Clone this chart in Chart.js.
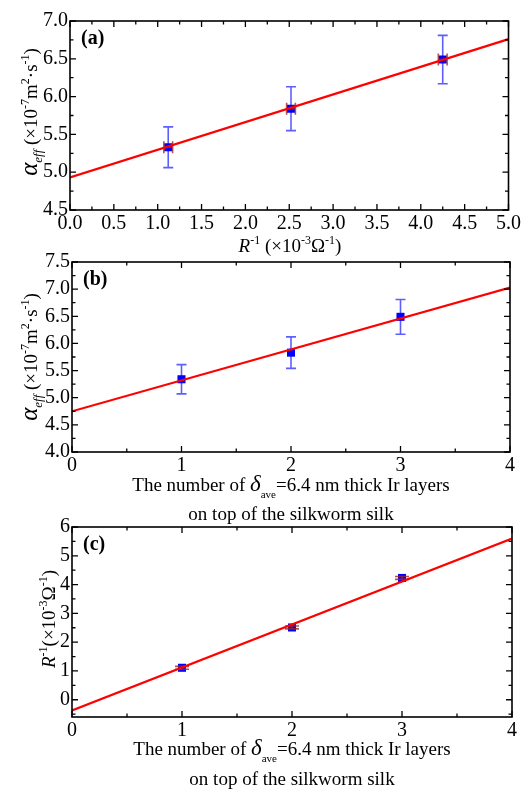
<!DOCTYPE html>
<html>
<head>
<meta charset="utf-8">
<script src="https://cdn.jsdelivr.net/npm/chart.js@4.4.0/dist/chart.umd.min.js"></script>
<style>
  html, body { margin: 0; padding: 0; background: #fff; }
  #wrap { position: relative; width: 523px; height: 789px; overflow: hidden; }
  canvas { position: absolute; left: 0; top: 0; }
</style>
</head>
<body>
<div id="wrap">
  <canvas id="chartA" width="523" height="789"></canvas>
  <canvas id="chartB" width="523" height="789"></canvas>
  <canvas id="chartC" width="523" height="789"></canvas>
</div>
<script>
// (a) alpha_eff vs R^-1
const aX = [1.12, 2.52, 4.25];
const aY = [5.33, 5.84, 6.49];
const aYErr = [0.27, 0.29, 0.32];
const aXErr = [0.05, 0.05, 0.05];
const aFitX = [0, 5];
const aFitY = [4.93, 6.76];
const aXTicks = [0, 0.5, 1, 1.5, 2, 2.5, 3, 3.5, 4, 4.5, 5];
const aXLabels = ["0.0", "0.5", "1.0", "1.5", "2.0", "2.5", "3.0", "3.5", "4.0", "4.5", "5.0"];
const aYTicks = [4.5, 5, 5.5, 6, 6.5, 7];
const aYLabels = ["4.5", "5.0", "5.5", "6.0", "6.5", "7.0"];

// (b) alpha_eff vs number of Ir layers
const bX = [1, 2, 3];
const bY = [5.34, 5.83, 6.49];
const bYErr = [0.27, 0.29, 0.32];
const bFitX = [0, 4];
const bFitY = [4.75, 7.03];
const bXTicks = [0, 1, 2, 3, 4];
const bXLabels = ["0", "1", "2", "3", "4"];
const bYTicks = [4, 4.5, 5, 5.5, 6, 6.5, 7, 7.5];
const bYLabels = ["4.0", "4.5", "5.0", "5.5", "6.0", "6.5", "7.0", "7.5"];

// (c) R^-1 vs number of Ir layers
const cX = [1, 2, 3];
const cY = [1.11, 2.51, 4.23];
const cYErr = [0.05, 0.05, 0.05];
const cFitX = [0, 4];
const cFitY = [-0.37, 5.6];
const cXTicks = [0, 1, 2, 3, 4];
const cXLabels = ["0", "1", "2", "3", "4"];
const cYTicks = [0, 1, 2, 3, 4, 5, 6];
const cYLabels = ["0", "1", "2", "3", "4", "5", "6"];

const SERIF = "'Liberation Serif', 'Times New Roman', serif";
const BLUE_ERR = "rgba(40,40,255,0.75)";
const BROWN_ERR = "rgba(150,40,40,0.8)";

function pts(xs, ys) {
  return xs.map((x, i) => ({ x: x, y: ys[i] }));
}

// draw a line of mixed-style text centred on (cx, cy) baseline, optionally rotated
function drawRich(ctx, parts, cx, cy, rotate) {
  ctx.save();
  ctx.translate(cx, cy);
  if (rotate) ctx.rotate(-Math.PI / 2);
  ctx.fillStyle = "#000";
  ctx.textBaseline = "alphabetic";
  ctx.textAlign = "left";
  let w = 0;
  parts.forEach(p => { ctx.font = p.f; w += ctx.measureText(p.t).width; });
  let x = -w / 2;
  parts.forEach(p => {
    ctx.font = p.f;
    ctx.fillText(p.t, x, p.dy || 0);
    x += ctx.measureText(p.t).width;
  });
  ctx.restore();
}

const n19 = "19px " + SERIF;
const i19 = "italic 19px " + SERIF;
const s12 = "12px " + SERIF;

const alphaTitle = [
  { t: "α", f: "italic 25px " + SERIF },
  { t: "eff", f: "italic 13px " + SERIF, dy: 5 },
  { t: " (×10", f: n19 },
  { t: "-7", f: s12, dy: -8 },
  { t: "m", f: n19 },
  { t: "2", f: s12, dy: -8 },
  { t: "·s", f: n19 },
  { t: "-1", f: s12, dy: -8 },
  { t: ")", f: n19 }
];
const layerTitle = [
  { t: "The number of ", f: n19 },
  { t: "δ", f: "italic 23px " + SERIF },
  { t: "ave", f: "11px " + SERIF, dy: 7 },
  { t: "=6.4 nm thick Ir layers", f: n19 }
];
const layerTitle2 = [{ t: "on top of the silkworm silk", f: n19 }];

const panels = [
  {
    id: "chartA", area: { left: 70, right: 510, top: 21, bottom: 210 },
    x: aX, y: aY, yErr: aYErr, xErr: aXErr, fitX: aFitX, fitY: aFitY,
    xTicks: aXTicks, xLabels: aXLabels, yTicks: aYTicks, yLabels: aYLabels,
    xMin: 0, xMax: 5, yMin: 4.5, yMax: 7, yErrColor: BLUE_ERR, yCap: 5,
    tag: "(a)",
    titles: [
      { parts: [
        { t: "R", f: i19 }, { t: "-1", f: s12, dy: -8 },
        { t: " (×10", f: n19 }, { t: "-3", f: s12, dy: -8 },
        { t: "Ω", f: n19 }, { t: "-1", f: s12, dy: -8 }, { t: ")", f: n19 }
      ], x: 290, y: 252 },
      { parts: alphaTitle, x: 37, y: 112, rot: true }
    ]
  },
  {
    id: "chartB", area: { left: 72, right: 510, top: 262, bottom: 452 },
    x: bX, y: bY, yErr: bYErr, xErr: null, fitX: bFitX, fitY: bFitY,
    xTicks: bXTicks, xLabels: bXLabels, yTicks: bYTicks, yLabels: bYLabels,
    xMin: 0, xMax: 4, yMin: 4, yMax: 7.5, yErrColor: BLUE_ERR, yCap: 5,
    tag: "(b)",
    titles: [
      { parts: layerTitle, x: 291, y: 491 },
      { parts: layerTitle2, x: 291, y: 520 },
      { parts: alphaTitle, x: 37, y: 357, rot: true }
    ]
  },
  {
    id: "chartC", area: { left: 72, right: 512, top: 527, bottom: 717 },
    x: cX, y: cY, yErr: cYErr, xErr: null, fitX: cFitX, fitY: cFitY,
    xTicks: cXTicks, xLabels: cXLabels, yTicks: cYTicks, yLabels: cYLabels,
    xMin: 0, xMax: 4, yMin: -0.6, yMax: 6, yErrColor: BROWN_ERR, yCap: 7,
    tag: "(c)",
    titles: [
      { parts: layerTitle, x: 292, y: 755 },
      { parts: layerTitle2, x: 292, y: 785 },
      { parts: [
        { t: "R", f: i19 }, { t: "-1", f: s12, dy: -8 },
        { t: "(×10", f: n19 }, { t: "-3", f: s12, dy: -8 },
        { t: "Ω", f: n19 }, { t: "-1", f: s12, dy: -8 }, { t: ")", f: n19 }
      ], x: 55, y: 619, rot: true }
    ]
  }
];

// error bars: blue ones under the squares, brown ones over them
const errorBars = {
  id: "errorBars",
  beforeDatasetsDraw(chart) {
    const p = chart.options.plugins.errorBars.panel;
    if (p.yErrColor === BLUE_ERR) drawYErr(chart, p);
  },
  afterDatasetDraw(chart, args) {
    if (args.index !== 1) return;
    const p = chart.options.plugins.errorBars.panel;
    if (p.yErrColor !== BLUE_ERR) drawYErr(chart, p);
    if (p.xErr) {
      const ctx = chart.ctx, xs = chart.scales.x, ys = chart.scales.y;
      ctx.save();
      ctx.strokeStyle = BROWN_ERR;
      ctx.lineWidth = 1.6;
      p.x.forEach((v, i) => {
        const x0 = xs.getPixelForValue(v - p.xErr[i]);
        const x1 = xs.getPixelForValue(v + p.xErr[i]);
        const y = ys.getPixelForValue(p.y[i]);
        ctx.beginPath();
        ctx.moveTo(x0, y); ctx.lineTo(x1, y);
        ctx.moveTo(x0, y - 6); ctx.lineTo(x0, y + 6);
        ctx.moveTo(x1, y - 6); ctx.lineTo(x1, y + 6);
        ctx.stroke();
      });
      ctx.restore();
    }
  }
};

function drawYErr(chart, p) {
  const ctx = chart.ctx, xs = chart.scales.x, ys = chart.scales.y;
  ctx.save();
  ctx.strokeStyle = p.yErrColor;
  ctx.lineWidth = 1.6;
  p.x.forEach((v, i) => {
    const x = xs.getPixelForValue(v);
    const y0 = ys.getPixelForValue(p.y[i] - p.yErr[i]);
    const y1 = ys.getPixelForValue(p.y[i] + p.yErr[i]);
    ctx.beginPath();
    ctx.moveTo(x, y0); ctx.lineTo(x, y1);
    ctx.moveTo(x - p.yCap, y0); ctx.lineTo(x + p.yCap, y0);
    ctx.moveTo(x - p.yCap, y1); ctx.lineTo(x + p.yCap, y1);
    ctx.stroke();
  });
  ctx.restore();
}

// frame with inward ticks on all four sides, titles and panel tag
const frame = {
  id: "frame",
  afterDraw(chart) {
    const p = chart.options.plugins.errorBars.panel;
    const ctx = chart.ctx, a = chart.chartArea;
    const xs = chart.scales.x, ys = chart.scales.y;
    ctx.save();
    ctx.strokeStyle = "#000";
    ctx.lineWidth = 1.6;
    ctx.strokeRect(a.left, a.top, a.right - a.left, a.bottom - a.top);
    ctx.lineWidth = 1.3;
    ctx.beginPath();
    const xt = [], yt = [];
    p.xTicks.forEach((v, i) => {
      xt.push([v, 6]);
      if (i < p.xTicks.length - 1) xt.push([(v + p.xTicks[i + 1]) / 2, 3.5]);
    });
    p.yTicks.forEach((v, i) => {
      yt.push([v, 6]);
      if (i < p.yTicks.length - 1) yt.push([(v + p.yTicks[i + 1]) / 2, 3.5]);
    });
    if (p.yMin < p.yTicks[0]) yt.push([p.yTicks[0] - (p.yTicks[1] - p.yTicks[0]) / 2, 3.5]);
    xt.forEach(([v, len]) => {
      const x = xs.getPixelForValue(v);
      ctx.moveTo(x, a.bottom); ctx.lineTo(x, a.bottom - len);
      ctx.moveTo(x, a.top); ctx.lineTo(x, a.top + len);
    });
    yt.forEach(([v, len]) => {
      const y = ys.getPixelForValue(v);
      if (y < a.top - 0.5 || y > a.bottom + 0.5) return;
      ctx.moveTo(a.left, y); ctx.lineTo(a.left + len, y);
      ctx.moveTo(a.right, y); ctx.lineTo(a.right - len, y);
    });
    ctx.stroke();
    ctx.restore();

    p.titles.forEach(t => drawRich(ctx, t.parts, t.x, t.y, t.rot));
    ctx.save();
    ctx.font = "bold 20px " + SERIF;
    ctx.fillStyle = "#000";
    ctx.fillText(p.tag, a.left + 11, a.top + 23);
    ctx.restore();
  }
};

panels.forEach(p => {
  const a = p.area;
  const xH = 30;
  new Chart(document.getElementById(p.id), {
    type: "scatter",
    data: {
      datasets: [
        {
          type: "line",
          label: "fit",
          data: pts(p.fitX, p.fitY),
          borderColor: "#ff0000",
          borderWidth: 2.2,
          pointRadius: 0,
          fill: false,
          order: 0
        },
        {
          label: "data",
          data: pts(p.x, p.y),
          backgroundColor: "#0000ff",
          borderColor: "#0000ff",
          borderWidth: 0,
          pointStyle: "rect",
          pointRadius: 5.7,
          order: 1
        }
      ]
    },
    options: {
      responsive: false,
      animation: false,
      events: [],
      layout: {
        padding: { left: 0, right: 523 - a.right, top: a.top, bottom: 789 - a.bottom - xH }
      },
      plugins: {
        legend: { display: false },
        tooltip: { enabled: false },
        errorBars: { panel: p }
      },
      scales: {
        x: {
          type: "linear",
          min: p.xMin, max: p.xMax,
          afterBuildTicks: s => { s.ticks = p.xTicks.map(v => ({ value: v })); },
          afterFit: s => { s.height = xH; },
          grid: { display: false, drawTicks: false },
          border: { display: false },
          ticks: {
            callback: (v, i) => p.xLabels[i],
            color: "#000", font: { family: SERIF, size: 20 },
            padding: 2, maxRotation: 0, autoSkip: false
          }
        },
        y: {
          type: "linear",
          min: p.yMin, max: p.yMax,
          afterBuildTicks: s => { s.ticks = p.yTicks.map(v => ({ value: v })); },
          afterFit: s => { s.width = a.left; },
          grid: { display: false, drawTicks: false },
          border: { display: false },
          ticks: {
            callback: (v, i) => p.yLabels[i],
            color: "#000", font: { family: SERIF, size: 20 },
            padding: 2, autoSkip: false
          }
        }
      }
    },
    plugins: [errorBars, frame]
  });
});
</script>
</body>
</html>
